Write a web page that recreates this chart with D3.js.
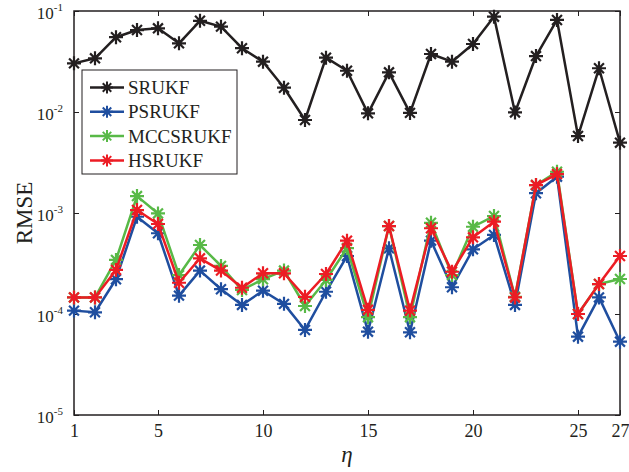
<!DOCTYPE html>
<html>
<head>
<meta charset="utf-8">
<script src="https://cdn.jsdelivr.net/npm/d3@7"></script>
<style>
  body { margin: 0; background: #fff; }
  svg { font-family: "Liberation Serif", "Times New Roman", serif; }
</style>
</head>
<body>
<svg width="629" height="472"></svg>
<script>
// eta index 1..27
const eta = d3.range(1, 28);

const srukf = [0.0303, 0.034, 0.055, 0.0648, 0.0674, 0.0479, 0.080, 0.070, 0.0428, 0.0315,
  0.0174, 0.00833, 0.0345, 0.0256, 0.0097, 0.0247, 0.0098, 0.0375, 0.0315, 0.0471,
  0.0879, 0.0099, 0.0358, 0.0815, 0.00578, 0.0271, 0.00497];

const psrukf = [1.08e-4, 1.04e-4, 2.21e-4, 9.18e-4, 6.3e-4, 1.52e-4, 2.69e-4, 1.76e-4, 1.23e-4, 1.70e-4,
  1.26e-4, 6.95e-5, 1.66e-4, 3.75e-4, 6.68e-5, 4.47e-4, 6.59e-5, 5.32e-4, 1.84e-4, 4.37e-4,
  6.06e-4, 1.23e-4, 1.57e-3, 2.29e-3, 5.96e-5, 1.46e-4, 5.32e-5];

const mccsrukf = [1.46e-4, 1.46e-4, 3.43e-4, 1.47e-3, 9.9e-4, 2.43e-4, 4.82e-4, 2.99e-4, 1.73e-4, 2.21e-4,
  2.69e-4, 1.20e-4, 2.17e-4, 4.5e-4, 9.3e-5, 7.43e-4, 9.3e-5, 8.0e-4, 2.43e-4, 7.31e-4,
  9.33e-4, 1.48e-4, 1.89e-3, 2.56e-3, 1.0e-4, 1.98e-4, 2.22e-4];

const hsrukf = [1.46e-4, 1.46e-4, 2.73e-4, 1.07e-3, 7.78e-4, 2.04e-4, 3.56e-4, 2.69e-4, 1.82e-4, 2.53e-4,
  2.53e-4, 1.48e-4, 2.49e-4, 5.32e-4, 1.10e-4, 7.43e-4, 1.08e-4, 7.06e-4, 2.62e-4, 5.74e-4,
  8.2e-4, 1.46e-4, 1.89e-3, 2.43e-3, 1.0e-4, 1.98e-4, 3.75e-4];

const seriesNames = ["SRUKF", "PSRUKF", "MCCSRUKF", "HSRUKF"];
const seriesColors = ["#231f20", "#1f4e9f", "#58b947", "#ec1c24"];
const seriesValues = [srukf, psrukf, mccsrukf, hsrukf];

const xTicks = [1, 5, 10, 15, 20, 25, 27];
const yTicks = [1e-5, 1e-4, 1e-3, 1e-2, 1e-1];
const yExps = ["-5", "-4", "-3", "-2", "-1"];

var svg = d3.select("svg");

var plotL = 74, plotR = 620, plotT = 11, plotB = 415;

var xScale = d3.scaleLinear().domain([1, 27]).range([plotL, plotR]);
var yScale = d3.scaleLog().base(10).domain([1e-5, 1e-1]).range([plotB, plotT]);

var axisColor = "#231f20";

// axes with inward ticks
var xAxis = d3.axisBottom(xScale).tickValues(xTicks).tickSizeInner(-5).tickSizeOuter(0).tickPadding(9);
var xAxisTop = d3.axisTop(xScale).tickValues(xTicks).tickSizeInner(-5).tickSizeOuter(0).tickFormat("");
var yAxis = d3.axisLeft(yScale).tickValues(yTicks).tickSizeInner(-5).tickSizeOuter(0).tickPadding(8).tickFormat("");
var yAxisRight = d3.axisRight(yScale).tickValues(yTicks).tickSizeInner(-5).tickSizeOuter(0).tickFormat("");

function styleAxis(g, size) {
  g.select(".domain").remove();
  g.selectAll(".tick line").attr("stroke", axisColor).attr("stroke-width", 1);
  g.selectAll("text").attr("fill", axisColor).style("font-family", "Liberation Serif").style("font-size", (size || 17) + "px");
}

svg.append("g").attr("transform", "translate(0," + plotB + ")").call(xAxis).call(styleAxis, 18);
svg.append("g").attr("transform", "translate(0," + plotT + ")").call(xAxisTop).call(styleAxis);
svg.append("g").attr("transform", "translate(" + plotR + ",0)").call(yAxisRight).call(styleAxis);
var gy = svg.append("g").attr("transform", "translate(" + plotL + ",0)").call(yAxis).call(styleAxis, 17);

// y tick labels as 10^n
gy.selectAll(".tick").each(function(d, i) {
  var t = d3.select(this).select("text").attr("x", -11).attr("dy", "0.45em");
  t.append("tspan").text("10");
  t.append("tspan").attr("dy", "-0.75em").style("font-size", "11px").text(yExps[i]);
});

// plot box
svg.append("rect")
  .attr("x", plotL).attr("y", plotT)
  .attr("width", plotR - plotL).attr("height", plotB - plotT)
  .attr("fill", "none").attr("stroke", axisColor).attr("stroke-width", 1.5);

// asterisk marker
function star(r) {
  var p = "";
  for (var k = 0; k < 4; k++) {
    var a = k * Math.PI / 4;
    var dx = r * Math.cos(a), dy = r * Math.sin(a);
    p += "M" + (-dx) + "," + (-dy) + "L" + dx + "," + dy;
  }
  return p;
}

var line = d3.line().x((d, i) => xScale(eta[i])).y(d => yScale(d));

seriesValues.forEach(function(vals, s) {
  var g = svg.append("g");
  g.append("path")
    .attr("d", line(vals))
    .attr("fill", "none")
    .attr("stroke", seriesColors[s])
    .attr("stroke-width", 2.5)
    .attr("stroke-linejoin", "round");
  g.selectAll("path.m")
    .data(vals)
    .enter()
    .append("path")
    .attr("class", "m")
    .attr("transform", (d, i) => "translate(" + xScale(eta[i]) + "," + yScale(d) + ")")
    .attr("d", star(7))
    .attr("stroke", seriesColors[s])
    .attr("stroke-width", 2.2);
});

// legend
var lg = svg.append("g");
lg.append("rect")
  .attr("x", 82).attr("y", 70).attr("width", 155).attr("height", 104)
  .attr("fill", "#fff").attr("stroke", axisColor).attr("stroke-width", 1);
seriesNames.forEach(function(name, s) {
  var y = 87.5 + s * 24.3;
  lg.append("line").attr("x1", 90).attr("x2", 124).attr("y1", y).attr("y2", y)
    .attr("stroke", seriesColors[s]).attr("stroke-width", 2.5);
  lg.append("path").attr("transform", "translate(107," + y + ")").attr("d", star(6))
    .attr("stroke", seriesColors[s]).attr("stroke-width", 2);
  lg.append("text").attr("x", 128).attr("y", y + 6.5)
    .style("font-size", "19px").attr("fill", axisColor).text(name);
});

// axis titles
svg.append("text")
  .attr("transform", "translate(32," + ((plotT + plotB) / 2) + ") rotate(-90)")
  .attr("text-anchor", "middle")
  .style("font-size", "23px").attr("fill", axisColor)
  .text("RMSE");
svg.append("text")
  .attr("x", 347).attr("y", 462)
  .attr("text-anchor", "middle")
  .style("font-size", "23px").style("font-style", "italic").attr("fill", axisColor)
  .text("η");
</script>
</body>
</html>
